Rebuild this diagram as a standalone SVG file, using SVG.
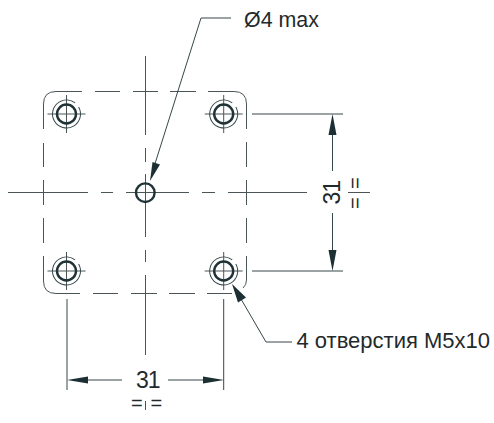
<svg xmlns="http://www.w3.org/2000/svg" width="494" height="423" viewBox="0 0 494 423">
<defs><style>
.c{fill:none;stroke:#4a5558;stroke-width:1}
.d{fill:none;stroke:#36474a;stroke-width:1}
.o{fill:none;stroke:#1f3236;stroke-width:2.4}
.a{fill:#1c3034;stroke:none}
text{font-family:"Liberation Sans",Arial,sans-serif;fill:#1f2a2c}
</style>
<g id="h"><path class="c" d="M-19 0H19M0-19V19"/><circle class="d" cx="0" cy="0" r="14" stroke-dasharray="82 6" transform="rotate(-30)"/><circle class="o" cx="0" cy="0" r="9.500"/></g>
</defs>
<rect width="494" height="423" fill="#fff"/>
<g id="outline"><path class="c" d="M82 91.500H56Q43.500 91.500 43.500 104V129M95 91.500H120M133 91.500H158M170 91.500H196M208 91.500H234Q246.500 91.500 246.500 104V129M246.500 142V167M246.500 180V205M246.500 218V243M246.500 256V280Q246.500 285 243 288M232 293.500H207M195 293.500H169M157 293.500H131M118 293.500H93M80 293.500H56Q43.500 293.500 43.500 281V256M43.500 243V218M43.500 205V180M43.500 167V143"/></g>
<g id="centerlines"><path class="c" d="M8 192.500H88M101 192.500H113M126 192.500H189M202 192.500H215M228 192.500H307M348 192.500H370M145.500 56V135M145.500 148V162M145.500 174V237M145.500 250V262M145.500 275V355M145.500 401V410"/></g>
<g id="hole-tl"><use href="#h" x="66.500" y="114"/></g>
<g id="hole-tr"><use href="#h" x="223.700" y="114"/></g>
<g id="hole-bl"><use href="#h" x="66.500" y="271"/></g>
<g id="hole-br"><use href="#h" x="223.700" y="271"/></g>
<g id="hole-center"><circle class="o" cx="145.300" cy="192.700" r="9.300"/></g>
<g id="connectors">
<path class="d" d="M231 18H201L153 170"/><path class="a" d="M150 181L152.500 162L160 164.500Z"/>
<path class="d" d="M292 342H266L241 299"/><path class="a" d="M232 284L246 297.500L238 302.500Z"/>
<path class="d" d="M252 114H343M252 271H343M332.500 130V171M332.500 213V255M67 299V390M223.700 299V390M85 380H122M168 380H206"/>
<path class="a" d="M332.500 114L336.500 135H328.500ZM332.500 271L328.500 250H336.500ZM67 380L88 376.500V383.500ZM224 380L203 376.500V383.500Z"/>
</g>
<g id="labels">
<text x="244" y="27" font-size="21.4">Ø4 max</text>
<text x="296.500" y="348" font-size="22">4 отверстия M5x10</text>
<text x="136" y="388" font-size="23" letter-spacing="-1">31</text>
<text x="131" y="409.500" font-size="20">=</text><text x="150.500" y="409.500" font-size="20">=</text>
<text transform="translate(340 204.500) rotate(-90)" font-size="23" letter-spacing="-1">31</text>
<text transform="translate(361.500 189) rotate(-90)" font-size="20">=</text><text transform="translate(361.500 209) rotate(-90)" font-size="20">=</text>
</g>
</svg>
